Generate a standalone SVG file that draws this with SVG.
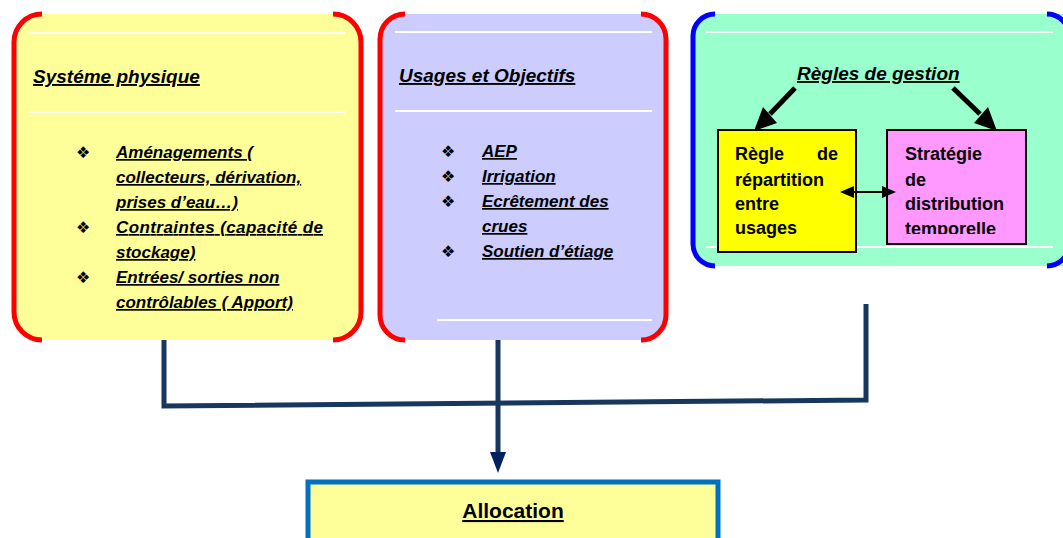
<svg xmlns="http://www.w3.org/2000/svg" width="1063" height="538" viewBox="0 0 1063 538">
<style>
.ti{font-family:"Liberation Sans",Arial,sans-serif;font-style:italic;font-weight:bold;font-size:19px;text-decoration:underline;fill:#000}
.it{font-family:"Liberation Sans",Arial,sans-serif;font-style:italic;font-weight:bold;font-size:17px;text-decoration:underline;fill:#000}
.bx{font-family:"Liberation Sans",Arial,sans-serif;font-weight:bold;font-size:18px;fill:#000}
.bul{font-family:"DejaVu Sans",sans-serif;font-size:16px;fill:#000}
.wl{stroke:#fff;stroke-width:2}
.red{fill:none;stroke:#ff0000;stroke-width:5}
.blue{fill:none;stroke:#0000ff;stroke-width:5}
.con{fill:none;stroke:#17375e;stroke-width:5}
</style>
<defs>
<clipPath id="pinkclip"><rect x="887" y="130" width="140" height="104"/></clipPath>
</defs>
<rect width="1063" height="538" fill="#fff"/>

<g id="systeme-physique">
<rect x="14" y="14" width="347" height="326" rx="28" fill="#ffff99"/>
<line class="wl" x1="29" y1="33" x2="345" y2="33"/>
<line class="wl" x1="29" y1="112" x2="345" y2="112"/>
<path class="red" d="M42,14 A28,28 0 0 0 14,42 V312 A28,28 0 0 0 42,340"/>
<path class="red" d="M333,14 A28,28 0 0 1 361,42 V312 A28,28 0 0 1 333,340"/>
<text class="ti" x="33" y="83">Systéme physique</text>
<text class="bul" x="76" y="158">❖</text>
<text class="it" x="116" y="158">Aménagements (</text>
<text class="it" x="116" y="183">collecteurs, dérivation,</text>
<text class="it" x="116" y="208">prises d’eau…)</text>
<text class="bul" x="76" y="233">❖</text>
<text class="it" x="116" y="233" textLength="207">Contraintes (capacité de</text>
<text class="it" x="116" y="258">stockage)</text>
<text class="bul" x="76" y="283">❖</text>
<text class="it" x="116" y="283">Entrées/ sorties non</text>
<text class="it" x="116" y="308">contrôlables ( Apport)</text>
</g>

<g id="usages-objectifs">
<rect x="380" y="14" width="286" height="326" rx="25" fill="#ccccff"/>
<line class="wl" x1="395" y1="32" x2="652" y2="32"/>
<line class="wl" x1="395" y1="111" x2="652" y2="111"/>
<line class="wl" x1="437" y1="320" x2="652" y2="320"/>
<path class="red" d="M405,14 A25,25 0 0 0 380,39 V315 A25,25 0 0 0 405,340"/>
<path class="red" d="M641,14 A25,25 0 0 1 666,39 V315 A25,25 0 0 1 641,340"/>
<text class="ti" x="399" y="82">Usages et Objectifs</text>
<text class="bul" x="441" y="157">❖</text>
<text class="it" x="482" y="157">AEP</text>
<text class="bul" x="441" y="182">❖</text>
<text class="it" x="482" y="182">Irrigation</text>
<text class="bul" x="441" y="207">❖</text>
<text class="it" x="482" y="207">Ecrêtement des</text>
<text class="it" x="482" y="232">crues</text>
<text class="bul" x="441" y="257">❖</text>
<text class="it" x="482" y="257">Soutien d’étiage</text>
</g>

<g id="regles-gestion">
<rect x="693" y="14" width="400" height="252" rx="22" fill="#99ffcc"/>
<line class="wl" x1="706" y1="32" x2="1053" y2="32"/>
<line class="wl" x1="706" y1="247" x2="1053" y2="247"/>
<path class="blue" d="M715,14 A22,22 0 0 0 693,36 V244 A22,22 0 0 0 715,266"/>
<path class="blue" d="M1047,14 A22,22 0 0 1 1069,36 V244 A22,22 0 0 1 1047,266"/>
<text class="ti" x="797" y="80">Règles de gestion</text>
</g>

<g id="regle-repartition">
<rect x="718" y="130" width="138" height="122" fill="#ffff00" stroke="#000" stroke-width="2"/>
<text class="bx" x="735" y="160">Règle<tspan x="838" text-anchor="end">de</tspan></text>
<text class="bx" x="735" y="186">répartition</text>
<text class="bx" x="735" y="210">entre</text>
<text class="bx" x="735" y="234">usages</text>
</g>

<g id="strategie-distribution">
<rect x="887" y="130" width="139" height="114" fill="#ff99ff" stroke="#000" stroke-width="2"/>
<g clip-path="url(#pinkclip)">
<text class="bx" x="905" y="160">Stratégie</text>
<text class="bx" x="905" y="186">de</text>
<text class="bx" x="905" y="210">distribution</text>
<text class="bx" x="905" y="235">temporelle</text>
</g>
</g>

<g id="allocation">
<rect x="308" y="482" width="410" height="62" fill="#ffff99" stroke="#0070c0" stroke-width="5"/>
<text x="513" y="518" text-anchor="middle" style="font-family:'Liberation Sans',Arial,sans-serif;font-weight:bold;font-size:21px;text-decoration:underline;fill:#000">Allocation</text>
</g>

<g id="connectors">
<path class="con" d="M164,340 V406 L866,400 V304"/>
<line class="con" x1="498" y1="340" x2="498" y2="455"/>
<polygon points="498,473 490,452 506,452" fill="#002060"/>
<line x1="795" y1="88" x2="770" y2="114" stroke="#000" stroke-width="5"/>
<polygon points="754,131 777,123 763,107" fill="#000"/>
<line x1="953" y1="88" x2="980" y2="114" stroke="#000" stroke-width="5"/>
<polygon points="997,131 974,123 988,107" fill="#000"/>
<line x1="850" y1="192" x2="886" y2="192" stroke="#000" stroke-width="2"/>
<polygon points="840,192 854,186 854,198" fill="#000"/>
<polygon points="896,192 882,186 882,198" fill="#000"/>
</g>
</svg>
